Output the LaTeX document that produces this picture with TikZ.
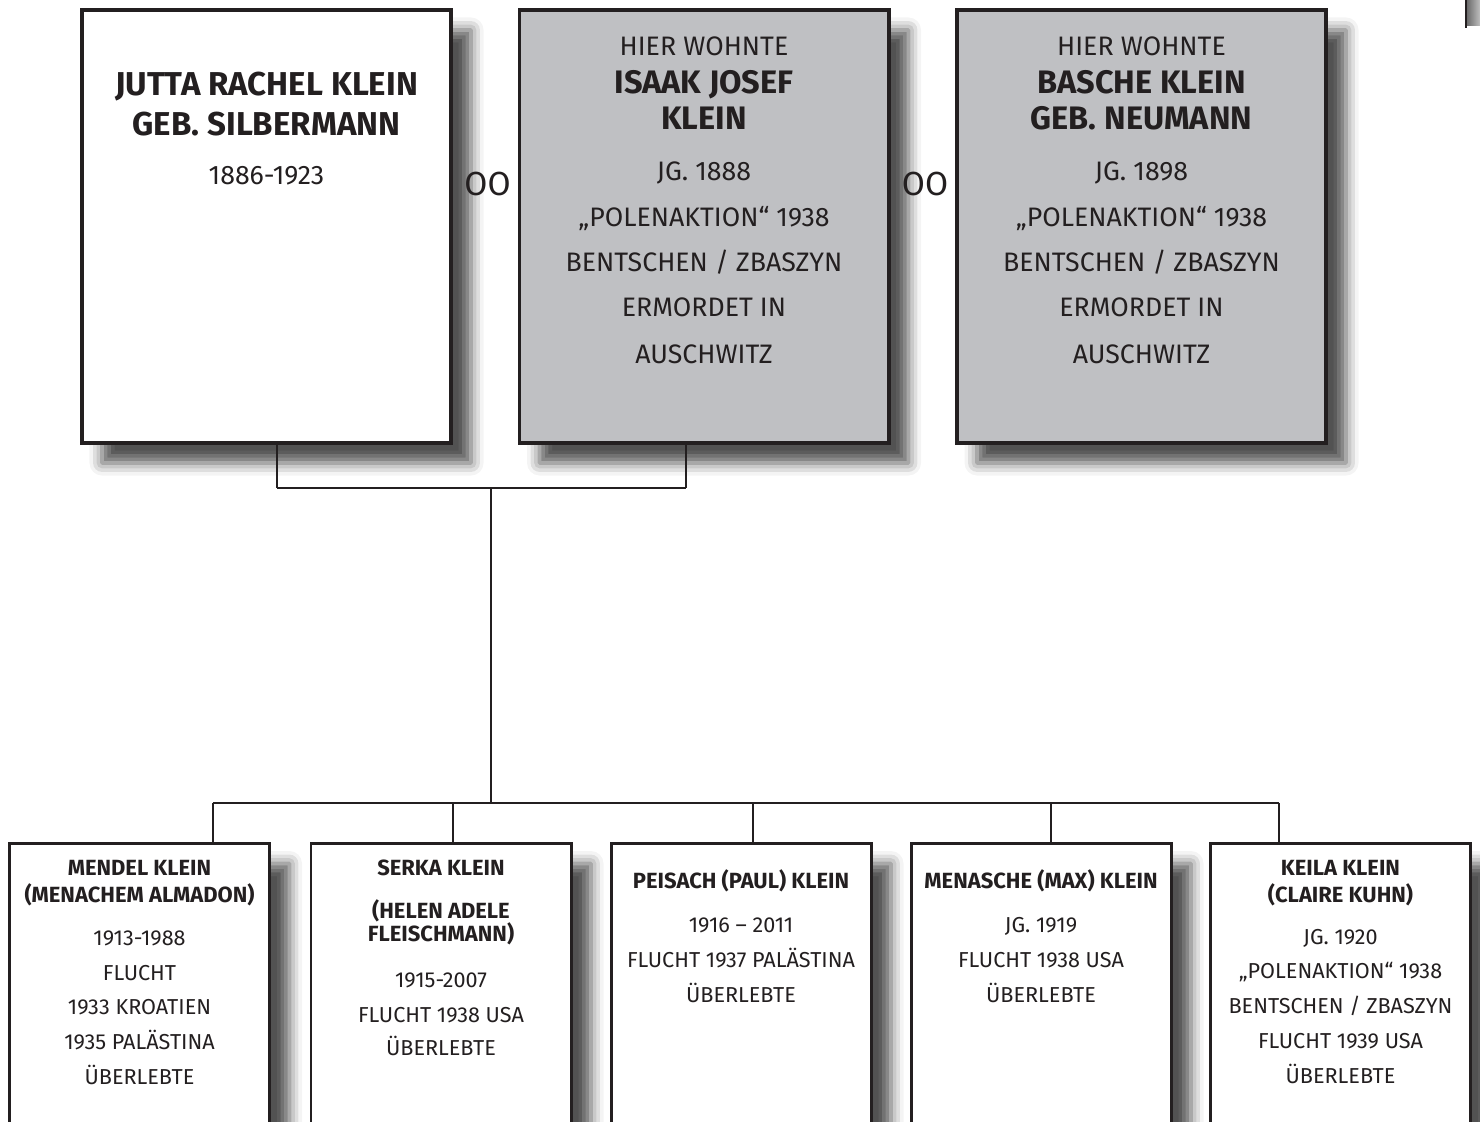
\documentclass[tikz,border=0pt]{standalone}
\usepackage{fontspec}
\setmainfont{Fira Sans}
\usetikzlibrary{shadows.blur}
\definecolor{ink}{HTML}{231F20}
\definecolor{stone}{HTML}{BFC0C3}

\begin{document}
\begin{tikzpicture}[scale=0.2]
% Styles
\tikzstyle{none} = []
\tikzstyle{topbox}=[draw=ink, fill=white, line width=2.27pt, minimum width=7.38cm, minimum height=8.66cm, inner sep=0pt, blur shadow={shadow xshift=0.4cm, shadow yshift=-0.4cm, shadow blur radius=0.25cm, shadow opacity=68}]
\tikzstyle{greybox}=[topbox, fill=stone]
\tikzstyle{kidbox}=[draw=ink, fill=white, line width=1.7pt, minimum width=5.2cm, minimum height=6.1cm, inner sep=0pt, blur shadow={shadow xshift=0.4cm, shadow yshift=-0.4cm, shadow blur radius=0.25cm, shadow opacity=68}]
\tikzstyle{toptext}=[anchor=base, inner sep=0pt, text=ink, font=\fontsize{15.2}{18}\selectfont]
\tikzstyle{topname}=[anchor=base, inner sep=0pt, text=ink, font=\fontsize{18.5}{22}\selectfont\bfseries]
\tikzstyle{kidtext}=[anchor=base, inner sep=0pt, text=ink, font=\fontsize{12.3}{15}\selectfont]
\tikzstyle{kidname}=[anchor=base, inner sep=0pt, text=ink, font=\fontsize{12.5}{14}\selectfont\bfseries]
\tikzstyle{marry}=[anchor=base, inner sep=0pt, text=ink, font=\fontsize{19}{22}\selectfont]
\tikzstyle{line}=[-, draw=ink, line width=1.1pt]

\useasboundingbox (0, 0) rectangle (148, -112.2);
\clip (0, 0) rectangle (148, -112.2);

% corner of a further stone, cut off
\fill [left color=black!60, right color=black!25] (146.6, 0) rectangle (148, -2.6);
\draw [line width=1.1pt, draw=ink] (146.6, 0) -- (146.6, -2.8);

% parents
\node [style=topbox] (1) at (26.65, -22.65) {};
\node [style=greybox] (2) at (70.4, -22.65) {};
\node [style=greybox] (3) at (114.15, -22.65) {};

% children
\node [style=kidbox] (4) at (13.95, -99.6) {};
\node [style=kidbox] (5) at (44.1, -99.6) {};
\node [style=kidbox] (6) at (74.1, -99.6) {};
\node [style=kidbox] (7) at (104.1, -99.6) {};
\node [style=kidbox] (8) at (134.05, -99.6) {};

% joints
\node [style=none] (10) at (27.7, -44.3) {};
\node [style=none] (11) at (27.7, -48.8) {};
\node [style=none] (12) at (68.6, -48.8) {};
\node [style=none] (13) at (68.6, -44.3) {};
\node [style=none] (14) at (49.1, -48.8) {};
\node [style=none] (15) at (49.1, -80.3) {};
\node [style=none] (16) at (21.3, -80.3) {};
\node [style=none] (17) at (45.3, -80.3) {};
\node [style=none] (18) at (75.3, -80.3) {};
\node [style=none] (19) at (105.1, -80.3) {};
\node [style=none] (20) at (127.9, -80.3) {};
\node [style=none] (21) at (21.3, -84.2) {};
\node [style=none] (22) at (45.3, -84.2) {};
\node [style=none] (23) at (75.3, -84.2) {};
\node [style=none] (24) at (105.1, -84.2) {};
\node [style=none] (25) at (127.9, -84.2) {};

% texts, parents
\node [style=topname, font=\fontsize{18.8}{22}\selectfont\bfseries] (30) at (26.65, -9.55) {JUTTA RACHEL KLEIN};
\node [style=topname, font=\fontsize{18.8}{22}\selectfont\bfseries] (31) at (26.65, -13.6) {GEB. SILBERMANN};
\node [style=toptext] (32) at (26.65, -18.5) {1886-1923};

\node [style=toptext] (33) at (70.4, -5.52) {HIER WOHNTE};
\node [style=topname] (34) at (70.4, -9.37) {ISAAK JOSEF};
\node [style=topname] (35) at (70.4, -12.97) {KLEIN};
\node [style=toptext] (36) at (70.4, -18.07) {JG. 1888};
\node [style=toptext] (37) at (70.4, -22.62) {„POLENAKTION“ 1938};
\node [style=toptext] (38) at (70.4, -27.12) {BENTSCHEN / ZBASZYN};
\node [style=toptext] (39) at (70.4, -31.67) {ERMORDET IN};
\node [style=toptext] (40) at (70.4, -36.32) {AUSCHWITZ};

\node [style=toptext] (41) at (114.15, -5.52) {HIER WOHNTE};
\node [style=topname] (42) at (114.15, -9.37) {BASCHE KLEIN};
\node [style=topname] (43) at (114.15, -12.97) {GEB. NEUMANN};
\node [style=toptext] (44) at (114.15, -18.07) {JG. 1898};
\node [style=toptext] (45) at (114.15, -22.62) {„POLENAKTION“ 1938};
\node [style=toptext] (46) at (114.15, -27.12) {BENTSCHEN / ZBASZYN};
\node [style=toptext] (47) at (114.15, -31.67) {ERMORDET IN};
\node [style=toptext] (48) at (114.15, -36.32) {AUSCHWITZ};

\node [style=marry] (49) at (48.75, -19.6) {OO};
\node [style=marry] (50) at (92.5, -19.6) {OO};

% texts, children
\node [style=kidname] (51) at (13.95, -87.5) {MENDEL KLEIN};
\node [style=kidname] (52) at (13.95, -90.2) {(MENACHEM ALMADON)};
\node [style=kidtext] (53) at (13.95, -94.5) {1913-1988};
\node [style=kidtext] (54) at (13.95, -98) {FLUCHT};
\node [style=kidtext] (55) at (13.95, -101.45) {1933 KROATIEN};
\node [style=kidtext] (56) at (13.95, -104.9) {1935 PALÄSTINA};
\node [style=kidtext] (57) at (13.95, -108.4) {ÜBERLEBTE};

\node [style=kidname] (58) at (44.1, -87.5) {SERKA KLEIN};
\node [style=kidname] (59) at (44.1, -91.8) {(HELEN ADELE};
\node [style=kidname] (60) at (44.1, -94.15) {FLEISCHMANN)};
\node [style=kidtext] (61) at (44.1, -98.7) {1915-2007};
\node [style=kidtext] (62) at (44.1, -102.2) {FLUCHT 1938 USA};
\node [style=kidtext] (63) at (44.1, -105.5) {ÜBERLEBTE};

\node [style=kidname] (64) at (74.1, -88.8) {PEISACH (PAUL) KLEIN};
\node [style=kidtext] (65) at (74.1, -93.25) {1916 – 2011};
\node [style=kidtext] (66) at (74.1, -96.75) {FLUCHT 1937 PALÄSTINA};
\node [style=kidtext] (67) at (74.1, -100.25) {ÜBERLEBTE};

\node [style=kidname] (68) at (104.1, -88.8) {MENASCHE (MAX) KLEIN};
\node [style=kidtext] (69) at (104.1, -93.25) {JG. 1919};
\node [style=kidtext] (70) at (104.1, -96.75) {FLUCHT 1938 USA};
\node [style=kidtext] (71) at (104.1, -100.25) {ÜBERLEBTE};

\node [style=kidname] (72) at (134.05, -87.5) {KEILA KLEIN};
\node [style=kidname] (73) at (134.05, -90.2) {(CLAIRE KUHN)};
\node [style=kidtext] (74) at (134.05, -94.4) {JG. 1920};
\node [style=kidtext] (75) at (134.05, -97.85) {„POLENAKTION“ 1938};
\node [style=kidtext] (76) at (134.05, -101.35) {BENTSCHEN / ZBASZYN};
\node [style=kidtext] (77) at (134.05, -104.85) {FLUCHT 1939 USA};
\node [style=kidtext] (78) at (134.05, -108.35) {ÜBERLEBTE};

\draw [style=line] (10.center) to (11.center);
\draw [style=line] (11.center) to (12.center);
\draw [style=line] (12.center) to (13.center);
\draw [style=line] (14.center) to (15.center);
\draw [style=line] (16.center) to (20.center);
\draw [style=line] (16.center) to (21.center);
\draw [style=line] (17.center) to (22.center);
\draw [style=line] (18.center) to (23.center);
\draw [style=line] (19.center) to (24.center);
\draw [style=line] (20.center) to (25.center);
\end{tikzpicture}
\end{document}
